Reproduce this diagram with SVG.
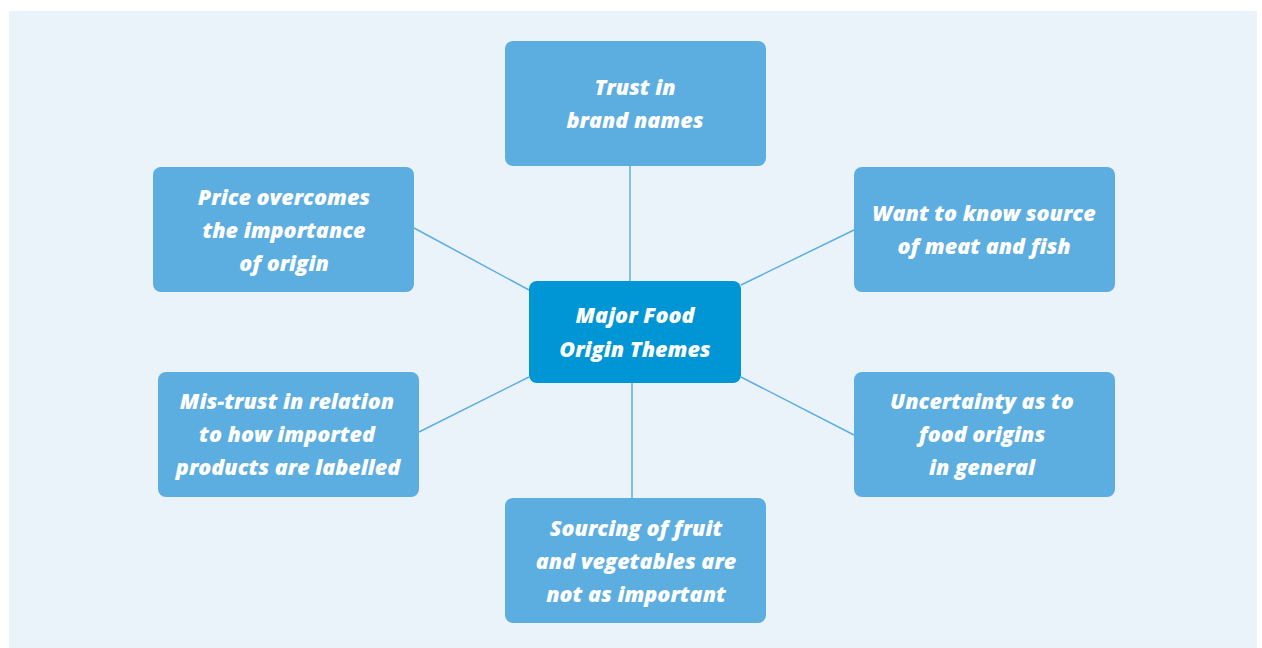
<svg xmlns="http://www.w3.org/2000/svg" width="1262" height="648" viewBox="0 0 1262 648">
<style>
.box{fill:#5DAEE0}
.core{fill:#0096D6}
.t{font-family:"Open Sans",Lato,sans-serif;font-weight:800;font-style:italic;font-size:21.5px;fill:#FFFFFF;text-anchor:middle}
.c line{stroke:#5DAEE0;stroke-width:1.5}
</style>
<rect x="9" y="11" width="1248" height="637" fill="#EAF2FA"/>
<g class="c" id="connectors">
<line x1="630" y1="166" x2="630" y2="281"/>
<line x1="632" y1="383" x2="632" y2="498"/>
<line x1="414" y1="228" x2="529" y2="290"/>
<line x1="854" y1="230" x2="741" y2="285"/>
<line x1="419" y1="432" x2="529" y2="377"/>
<line x1="854" y1="435" x2="741" y2="377"/>
</g>
<g id="n-top"><rect class="box" x="505" y="41" width="261" height="125" rx="8"/>
<text class="t" x="635" y="95">Trust in</text><text class="t" x="635" y="128">brand names</text></g>
<g id="n-lt"><rect class="box" x="153" y="167" width="261" height="125" rx="8"/>
<text class="t" x="284" y="205">Price overcomes</text><text class="t" x="284" y="238">the importance</text><text class="t" x="284" y="271">of origin</text></g>
<g id="n-rt"><rect class="box" x="854" y="167" width="261" height="125" rx="8"/>
<text class="t" x="984" y="221">Want to know source</text><text class="t" x="984" y="254">of meat and fish</text></g>
<g id="n-center"><rect class="core" x="529" y="281" width="212" height="102" rx="8"/>
<text class="t" x="635" y="323">Major Food</text><text class="t" x="635" y="357">Origin Themes</text></g>
<g id="n-lb"><rect class="box" x="158" y="372" width="261" height="125" rx="8"/>
<text class="t" x="287" y="409">Mis-trust in relation</text><text class="t" x="287" y="442">to how imported</text><text class="t" x="288" y="475">products are labelled</text></g>
<g id="n-rb"><rect class="box" x="854" y="372" width="261" height="125" rx="8"/>
<text class="t" x="982" y="409">Uncertainty as to</text><text class="t" x="982" y="442">food origins</text><text class="t" x="982" y="475">in general</text></g>
<g id="n-bottom"><rect class="box" x="505" y="498" width="261" height="125" rx="8"/>
<text class="t" x="636" y="536">Sourcing of fruit</text><text class="t" x="636" y="569">and vegetables are</text><text class="t" x="636" y="602">not as important</text></g>
</svg>
